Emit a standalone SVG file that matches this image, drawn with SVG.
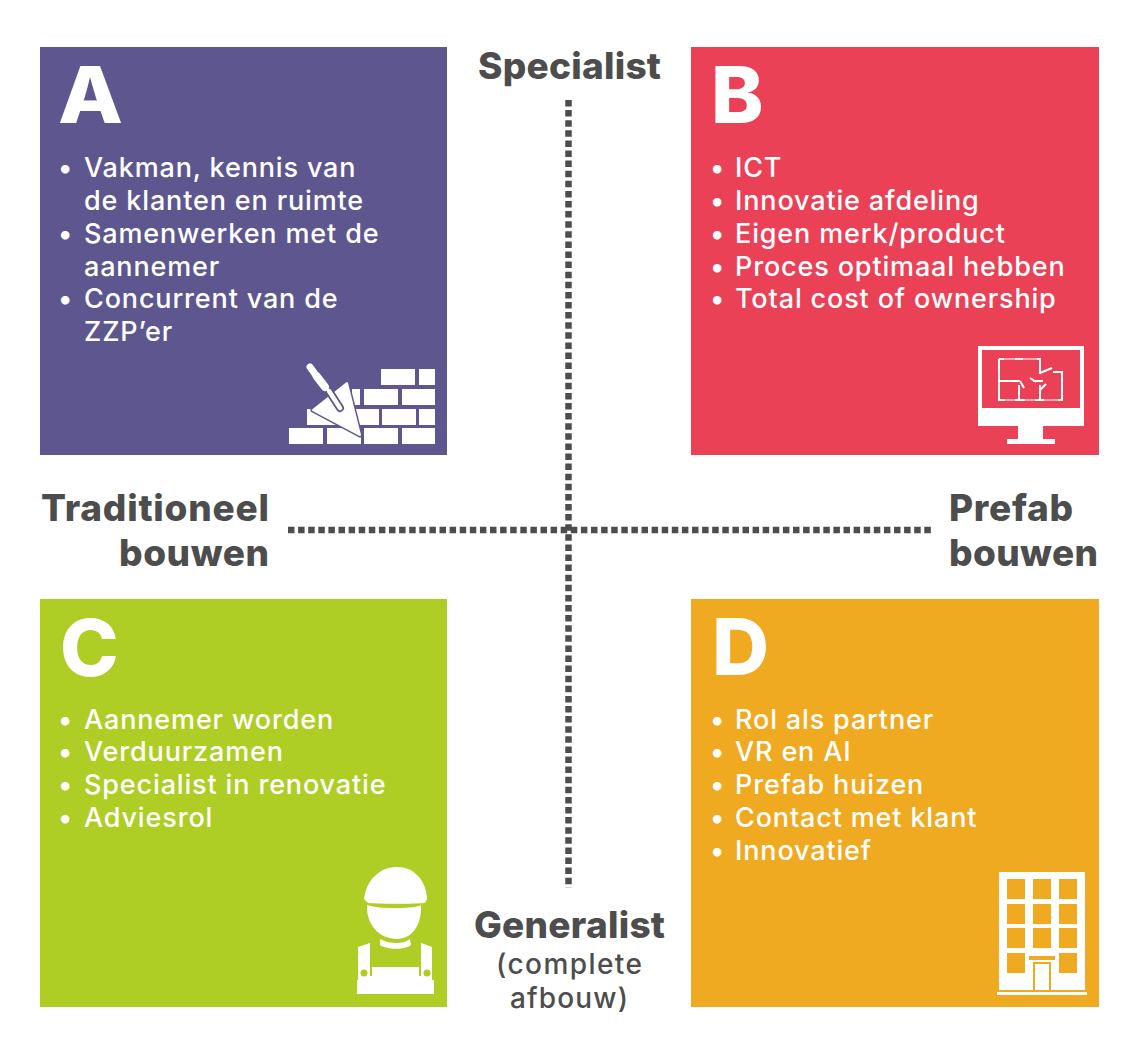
<svg xmlns="http://www.w3.org/2000/svg" width="1144" height="1051" viewBox="0 0 1144 1051">
<style>
text{font-family:"Inter","Liberation Sans",sans-serif}
.h{font-size:37px;font-weight:800;fill:#4d4d4d}
.s{font-size:28px;font-weight:500;fill:#4d4d4d}
.l{font-size:79px;font-weight:800;fill:#fff}
.b{font-size:27px;font-weight:500;fill:#fff;letter-spacing:.85px}
.w{fill:#fff}
.dash{stroke:#4d4d4d;stroke-width:6.5;stroke-dasharray:6.5 3.6;fill:none}
</style>
<rect width="1144" height="1051" fill="#fff"/>
<g id="connectors">
<path class="dash" d="M568.5 100V888"/>
<path class="dash" d="M288 530H933"/>
</g>
<g id="node-a">
<rect x="40" y="47" width="407" height="408" fill="#5e578f"/>
<text class="l" x="58" y="123" textLength="65" lengthAdjust="spacingAndGlyphs">A</text>
<text class="b" x="58" y="177">•</text><text class="b" x="84" y="177">Vakman, kennis van</text>
<text class="b" x="84" y="210">de klanten en ruimte</text>
<text class="b" x="58" y="243">•</text><text class="b" x="84" y="243">Samenwerken met de</text>
<text class="b" x="84" y="276">aannemer</text>
<text class="b" x="58" y="308">•</text><text class="b" x="84" y="308">Concurrent van de</text>
<text class="b" x="84" y="341">ZZP’er</text>
<g class="w">
<rect x="381" y="369" width="34" height="16"/><rect x="419" y="369" width="16" height="16"/>
<rect x="352" y="389" width="8" height="16"/><rect x="364" y="389" width="34" height="16"/><rect x="402" y="389" width="33" height="16"/>
<rect x="307" y="409" width="34" height="16"/><rect x="345" y="409" width="34" height="16"/><rect x="382" y="409" width="34" height="16"/><rect x="419" y="409" width="16" height="16"/>
<rect x="289" y="428" width="34" height="16"/><rect x="327" y="428" width="34" height="16"/><rect x="364" y="428" width="34" height="16"/><rect x="402" y="428" width="33" height="16"/>
</g>
<path d="M347 383L360 435L313 410Z" fill="#fff" stroke="#5e578f" stroke-width="5" stroke-linejoin="round" paint-order="stroke"/>
<path d="M347 383L360 435L313 410Z" fill="#fff" stroke="#fff" stroke-width="2" stroke-linejoin="round"/>
<path d="M329 391L340 408" stroke="#5e578f" stroke-width="8" stroke-linecap="round"/>
<path d="M329 391L340 408" stroke="#fff" stroke-width="4.5" stroke-linecap="round"/>
<path d="M310 367L315 374" stroke="#fff" stroke-width="7" stroke-linecap="round"/>
<path d="M316.5 376L325 387" stroke="#fff" stroke-width="8" stroke-linecap="round"/>
</g>
<g id="node-b">
<rect x="691" y="47" width="408" height="408" fill="#eb4157"/>
<text class="l" x="711" y="123">B</text>
<text class="b" x="710" y="177">•</text><text class="b" x="735" y="177">ICT</text>
<text class="b" x="710" y="210">•</text><text class="b" x="735" y="210">Innovatie afdeling</text>
<text class="b" x="710" y="243">•</text><text class="b" x="735" y="243">Eigen merk/product</text>
<text class="b" x="710" y="276">•</text><text class="b" x="735" y="276">Proces optimaal hebben</text>
<text class="b" x="710" y="308">•</text><text class="b" x="735" y="308">Total cost of ownership</text>
<path class="w" fill-rule="evenodd" d="M978 346H1084V426H1043V439H1055V444H1007V439H1018V426H978ZM982 350V408H1080V350Z"/>
<path d="M999 359H1040V374M999 359V400H1062V372H1053M999 381H1020M1033 381H1043M1019 385V400M1040 385V400M1040 373L1052 368M1020 381L1024 388M1030 378L1036 382M1040 390L1046 384" fill="none" stroke="#fff" stroke-width="2"/>
<path d="M1004 359H1015M1023 359H1037M1005 400H1015M1025 400H1035M1044 400H1058" fill="none" stroke="#f7a9b3" stroke-width="2"/>
</g>
<g id="node-c">
<rect x="40" y="599" width="407" height="408" fill="#aecd25"/>
<text class="l" x="60" y="676">C</text>
<text class="b" x="58" y="729">•</text><text class="b" x="84" y="729">Aannemer worden</text>
<text class="b" x="58" y="761">•</text><text class="b" x="84" y="761">Verduurzamen</text>
<text class="b" x="58" y="794">•</text><text class="b" x="84" y="794">Specialist in renovatie</text>
<text class="b" x="58" y="827">•</text><text class="b" x="84" y="827">Adviesrol</text>
<path class="w" d="M364 899C366 880 380 867 397 867C414 867 426 880 427 899L425 903C412 904 382 904 368 903Z"/>
<path class="w" d="M367 905C378 908 384 908 397 908C410 908 418 907 421 905C422 925 412 939 397 939C380 939 366 925 367 905Z"/>
<path class="w" d="M380 939C386 942 392 943 397 943C402 943 405 942 410 939L411 945C405 950 387 950 380 945Z"/>
<path class="w" d="M358 947L370 943V976H358ZM421 943L432 947V976H421ZM372 967H419V980H372ZM357 980H434V994H357Z"/>
<path d="M358 976H432V981H358Z" fill="#fff"/>
<circle cx="364" cy="973" r="3.5" fill="#aecd25"/><circle cx="427" cy="973" r="3.5" fill="#aecd25"/>
</g>
<g id="node-d">
<rect x="691" y="599" width="408" height="408" fill="#f0aa22"/>
<text class="l" x="712" y="675">D</text>
<text class="b" x="710" y="729">•</text><text class="b" x="735" y="729">Rol als partner</text>
<text class="b" x="710" y="761">•</text><text class="b" x="735" y="761">VR en AI</text>
<text class="b" x="710" y="794">•</text><text class="b" x="735" y="794">Prefab huizen</text>
<text class="b" x="710" y="827">•</text><text class="b" x="735" y="827">Contact met klant</text>
<text class="b" x="710" y="860">•</text><text class="b" x="735" y="860">Innovatief</text>
<rect class="w" x="999" y="872" width="86" height="118"/>
<rect class="w" x="997" y="992" width="90" height="3"/>
<g fill="#f0aa22">
<rect x="1007" y="879" width="18" height="20"/><rect x="1033" y="879" width="18" height="20"/><rect x="1059" y="879" width="18" height="20"/>
<rect x="1007" y="904" width="18" height="20"/><rect x="1033" y="904" width="18" height="20"/><rect x="1059" y="904" width="18" height="20"/>
<rect x="1007" y="928" width="18" height="20"/><rect x="1033" y="928" width="18" height="20"/><rect x="1059" y="928" width="18" height="20"/>
<rect x="1007" y="953" width="18" height="20"/><rect x="1059" y="953" width="18" height="20"/>
<rect x="1029" y="956" width="26" height="4"/>
</g>
<path d="M1034 990V963H1050V990" fill="none" stroke="#f0aa22" stroke-width="2"/>
</g>
<g id="labels">
<text class="h" x="478" y="79" textLength="183">Specialist</text>
<text class="h" x="41" y="521" textLength="228">Traditioneel</text>
<text class="h" x="119" y="566" textLength="150">bouwen</text>
<text class="h" x="949" y="521" textLength="124">Prefab</text>
<text class="h" x="949" y="566" textLength="149">bouwen</text>
<text class="h" x="474" y="938" textLength="191">Generalist</text>
<text class="s" x="496" y="974" textLength="146">(complete</text>
<text class="s" x="510" y="1008" textLength="118">afbouw)</text>
</g>
</svg>
